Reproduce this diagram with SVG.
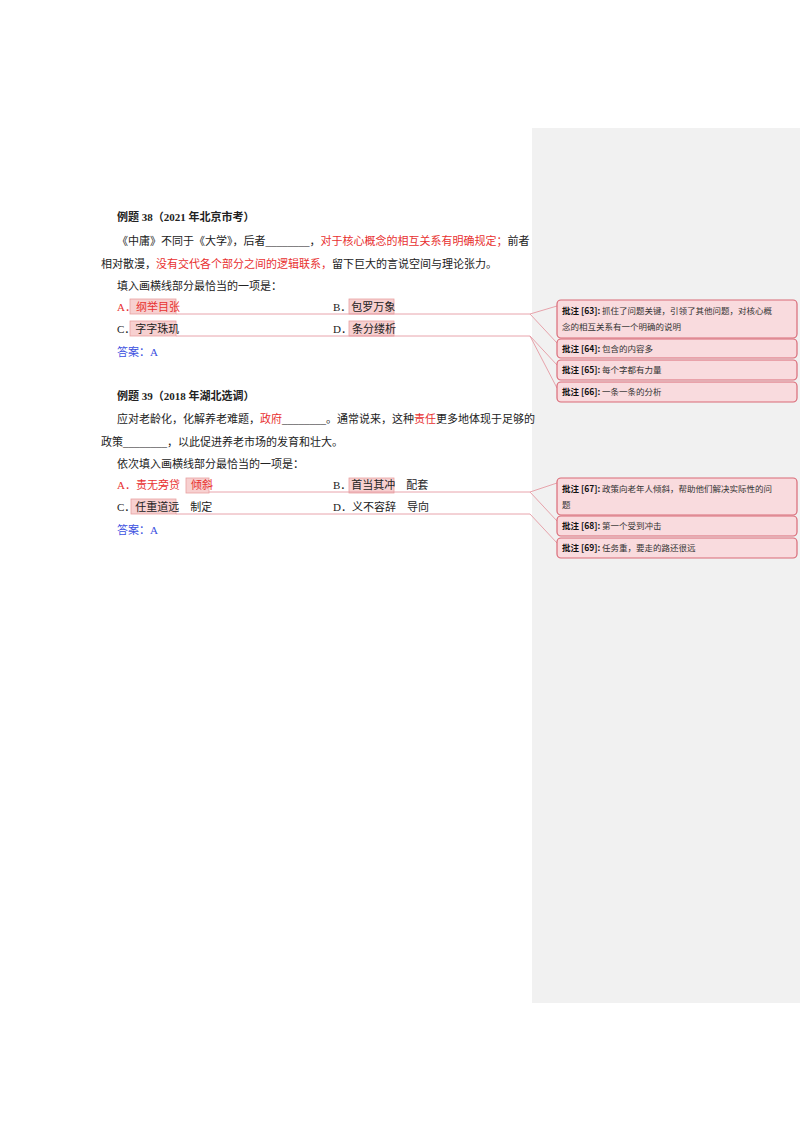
<svg xmlns="http://www.w3.org/2000/svg" width="800" height="1132" viewBox="0 0 800 1132">
<style>
text{font-family:"Liberation Serif","Noto Sans CJK SC",serif;font-size:11px;fill:#222}
.b{font-weight:bold}
.r{fill:#e8302f}
.bl{fill:#3a4fe0}
.hl{fill:#f7d0d0;stroke:#e8a0a0;stroke-width:0.8}
.cb{fill:#f9dbde;stroke:#d96a77;stroke-width:1.2}
.ct{font-family:"Noto Sans CJK SC",sans-serif;font-size:8.5px;fill:#333}
.ctb{font-family:"Noto Sans CJK SC",sans-serif;font-size:8.5px;font-weight:bold;fill:#111}
.ln{stroke:#e59aa3;stroke-width:0.9;fill:none}
</style>
<rect width="800" height="1132" fill="#fff"/>
<rect x="532" y="128" width="268" height="875" fill="#f1f1f1"/>
<g id="q38">
<text x="117" y="221" class="b">例题 38（2021 年北京市考）</text>
<text x="117" y="245">《中庸》不同于《大学》，后者________，<tspan class="r">对于核心概念的相互关系有明确规定；</tspan>前者</text>
<text x="101" y="268">相对散漫，<tspan class="r">没有交代各个部分之间的逻辑联系，</tspan>留下巨大的言说空间与理论张力。</text>
<text x="117" y="290">填入画横线部分最恰当的一项是：</text>
<rect class="hl" x="130" y="299" width="46" height="15"/>
<rect class="hl" x="349" y="299" width="45" height="15"/>
<rect class="hl" x="130" y="321" width="46" height="15"/>
<rect class="hl" x="349" y="321" width="45" height="15"/>
<text x="117" y="311" class="r">A．纲举目张</text>
<text x="333" y="311">B．包罗万象</text>
<text x="117" y="333">C．字字珠玑</text>
<text x="333" y="333">D．条分缕析</text>
<text x="117" y="356" class="bl">答案：A</text>
</g>
<g id="q39">
<text x="117" y="400" class="b">例题 39（2018 年湖北选调）</text>
<text x="117" y="423">应对老龄化，化解养老难题，<tspan class="r">政府</tspan>________。通常说来，这种<tspan class="r">责任</tspan>更多地体现于足够的</text>
<text x="101" y="446">政策________，以此促进养老市场的发育和壮大。</text>
<text x="117" y="468">依次填入画横线部分最恰当的一项是：</text>
<rect class="hl" x="186" y="478" width="23" height="15"/>
<rect class="hl" x="349" y="478" width="45" height="15"/>
<rect class="hl" x="131" y="499" width="45" height="15"/>
<text x="117" y="489" class="r">A．责无旁贷　倾斜</text>
<text x="333" y="489">B．首当其冲　配套</text>
<text x="117" y="511">C．任重道远　制定</text>
<text x="333" y="511">D．义不容辞　导向</text>
<text x="117" y="534" class="bl">答案：A</text>
</g>
<g id="connectors">
<path class="ln" d="M176 314H530L557 306M530 314L557 343"/>
<path class="ln" d="M176 336H530L557 365M530 336L557 388"/>
<path class="ln" d="M209 492H530L557 483M530 492L557 521"/>
<path class="ln" d="M176 514H530L557 543"/>
</g>
<g id="c63"><rect class="cb" x="557" y="300" width="240" height="38" rx="4"/><text x="562" y="314" class="ct"><tspan class="ctb">批注 [63]:</tspan> 抓住了问题关键，引领了其他问题，对核心概</text><text x="562" y="330" class="ct">念的相互关系有一个明确的说明</text></g>
<g id="c64"><rect class="cb" x="557" y="339" width="240" height="19" rx="4"/><text x="562" y="352" class="ct"><tspan class="ctb">批注 [64]:</tspan> 包含的内容多</text></g>
<g id="c65"><rect class="cb" x="557" y="360" width="240" height="20" rx="4"/><text x="562" y="373" class="ct"><tspan class="ctb">批注 [65]:</tspan> 每个字都有力量</text></g>
<g id="c66"><rect class="cb" x="557" y="382" width="240" height="20" rx="4"/><text x="562" y="395" class="ct"><tspan class="ctb">批注 [66]:</tspan> 一条一条的分析</text></g>
<g id="c67"><rect class="cb" x="557" y="478" width="240" height="37" rx="4"/><text x="562" y="492" class="ct"><tspan class="ctb">批注 [67]:</tspan> 政策向老年人倾斜，帮助他们解决实际性的问</text><text x="562" y="508" class="ct">题</text></g>
<g id="c68"><rect class="cb" x="557" y="516" width="240" height="20" rx="4"/><text x="562" y="529" class="ct"><tspan class="ctb">批注 [68]:</tspan> 第一个受到冲击</text></g>
<g id="c69"><rect class="cb" x="557" y="538" width="240" height="20" rx="4"/><text x="562" y="551" class="ct"><tspan class="ctb">批注 [69]:</tspan> 任务重，要走的路还很远</text></g>
</svg>
